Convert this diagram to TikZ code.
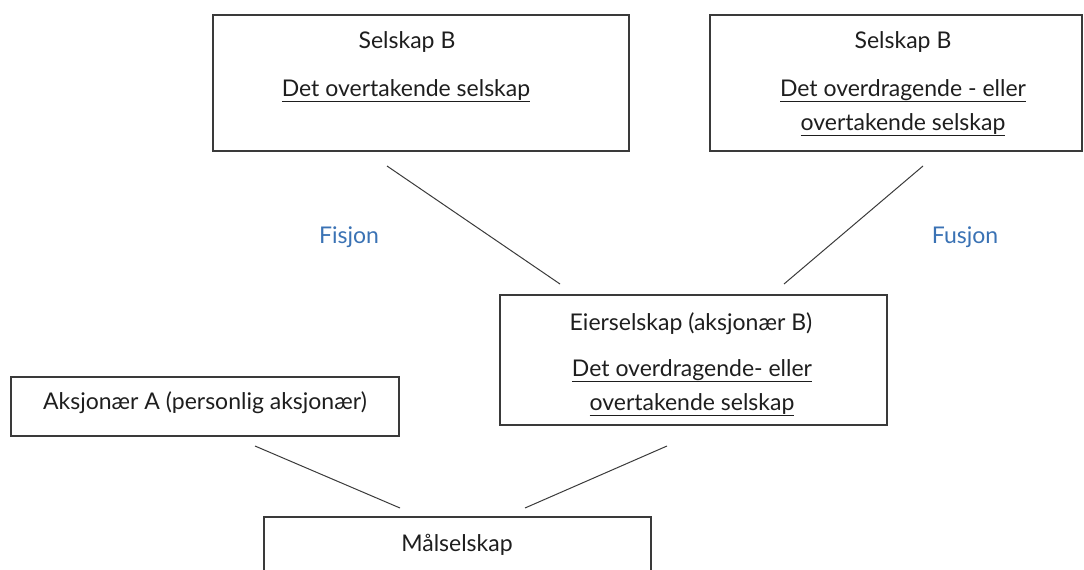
\documentclass[tikz,border=0pt]{standalone}
\usepackage{fontspec}
\setmainfont{Lato}
\definecolor{txt}{HTML}{1E1E1E}
\definecolor{edge}{HTML}{3A3A3A}
\definecolor{lbl}{HTML}{3A72B4}
\begin{document}
\begin{tikzpicture}[x=1pt,y=-1pt,
  box/.style={draw=edge,line width=1.2pt,rectangle,inner sep=0pt},
  txtn/.style={text=txt,font=\fontsize{23}{23}\selectfont,inner sep=0pt,anchor=base},
  conn/.style={draw=edge,line width=1pt},
  lab/.style={text=lbl,font=\fontsize{23}{23}\selectfont,inner sep=0pt,anchor=base}]
\useasboundingbox (0,0) rectangle (1084,570);
\clip (0,0) rectangle (1084,570);
% boxes
\node[box,minimum width=416,minimum height=136] (b1) at (421,83) {};
\node[box,minimum width=372,minimum height=136] (b2) at (896,83) {};
\node[box,minimum width=387,minimum height=130] (eier) at (693.5,360) {};
\node[box,minimum width=388,minimum height=59] (aks) at (205,406.5) {};
\node[box,minimum width=387,minimum height=100] (mal) at (457.5,567) {};
% texts
\node[txtn] (b1t) at (407,48) {Selskap B};
\node[txtn] (b1u) at (406,96) {\underline{Det overtakende selskap}};
\node[txtn] (b2t) at (903,48) {Selskap B};
\node[txtn] (b2u1) at (903,96) {\underline{Det overdragende - eller}};
\node[txtn] (b2u2) at (903,130) {\underline{overtakende selskap}};
\node[txtn] (et) at (691,330) {Eierselskap (aksjonær B)};
\node[txtn] (eu1) at (692,376) {\underline{Det overdragende- eller}};
\node[txtn] (eu2) at (692,410) {\underline{overtakende selskap}};
\node[txtn] (akst) at (205,409) {Aksjonær A (personlig aksjonær)};
\node[txtn] (malt) at (457,551) {Målselskap};
% labels
\node[lab] (fis) at (349,243) {Fisjon};
\node[lab] (fus) at (965,243) {Fusjon};
% connector ends
\coordinate (c1a) at (387,166);
\coordinate (c1b) at (560,284);
\coordinate (c2a) at (923,166);
\coordinate (c2b) at (784,284);
\coordinate (c3a) at (255,446);
\coordinate (c3b) at (400,508);
\coordinate (c4a) at (667,446);
\coordinate (c4b) at (525,508);
\draw[conn] (c1a) -- (c1b);
\draw[conn] (c2a) -- (c2b);
\draw[conn] (c3a) -- (c3b);
\draw[conn] (c4a) -- (c4b);
\end{tikzpicture}
\end{document}
